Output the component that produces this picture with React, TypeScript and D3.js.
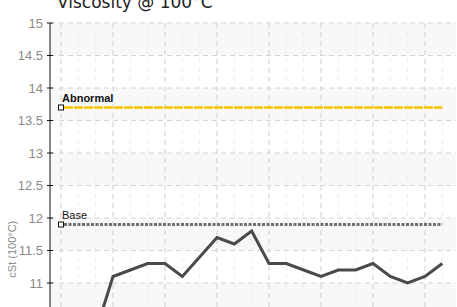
import * as d3 from "d3"

// Reading index: one per minor grid column
const readings = [9.9, 10.05, 10.25, 11.1, 11.2, 11.3, 11.3, 11.1, 11.4, 11.7, 11.6, 11.8, 11.3, 11.3, 11.2, 11.1, 11.2, 11.2, 11.3, 11.1, 11.0, 11.1, 11.3]
const yTicks = [10, 10.5, 11, 11.5, 12, 12.5, 13, 13.5, 14, 14.5, 15]
const limits = [
  { label: "Abnormal", value: 13.7, color: "#f5c200", bold: true },
  { label: "Base", value: 11.9, color: "#707070", bold: false },
]
const title = "Viscosity @ 100°C"
const yLabel = "cSt (100°C)"

export default function App() {
  const width = 457
  const height = 420
  const left = 50
  const right = 456
  const top = 23

  const x = d3.scaleLinear().domain([-0.635, 22.79]).range([left, right])
  const y = d3.scaleLinear().domain([11, 15]).range([283, top])
  const bottom = y(10)

  const idx = d3.range(readings.length)
  const major = idx.filter((i) => i % 3 === 0 && i < 22)
  const minor = idx.filter((i) => i % 3 !== 0 || i >= 22)
  const bands = yTicks.filter((t) => t < 15 && (t * 2) % 2 === 1)

  const line = d3
    .line<number>()
    .x((_, i) => x(i))
    .y((d) => y(d))

  return (
    <svg width={width} height={height} style={{ position: "absolute", left: 0, top: 0, background: "#fff" }}>
      <text x={57} y={8} fontFamily="DejaVu Sans, Verdana, sans-serif" fontSize={17} fill="#222">
        {title}
      </text>

      {/* alternating bands */}
      {bands.map((t) => (
        <rect key={t} x={left} y={y(t + 0.5)} width={right - left} height={y(t) - y(t + 0.5)} fill="#f8f8f8" />
      ))}

      {/* grid */}
      {minor.map((i) => (
        <line key={"m" + i} x1={x(i)} x2={x(i)} y1={top} y2={bottom} stroke="#ececec" strokeDasharray="4,5" />
      ))}
      {major.map((i) => (
        <line key={"M" + i} x1={x(i)} x2={x(i)} y1={top} y2={bottom} stroke="#cfcfcf" strokeDasharray="5,4" />
      ))}
      {yTicks.map((t) => (
        <line key={"h" + t} x1={left} x2={right} y1={y(t)} y2={y(t)} stroke="#d4d4d4" strokeDasharray="5,4" />
      ))}

      {/* y axis */}
      <line x1={left} x2={left} y1={top} y2={bottom} stroke="#111" />
      {yTicks.map((t) => (
        <g key={"t" + t}>
          <line x1={left - 3} x2={left + 3} y1={y(t)} y2={y(t)} stroke="#111" />
          <text
            x={left - 7}
            y={y(t)}
            dy="0.36em"
            textAnchor="end"
            fontFamily="Liberation Sans, Arial, sans-serif"
            fontSize={13}
            fill="#8a8a8a"
          >
            {t}
          </text>
        </g>
      ))}
      <text
        transform={`translate(16,${y(11.52)}) rotate(-90)`}
        textAnchor="middle"
        fontFamily="Liberation Sans, Arial, sans-serif"
        fontSize={11}
        fill="#8a8a8a"
      >
        {yLabel}
      </text>

      {/* limit lines */}
      {limits.map((l) => (
        <g key={l.label}>
          <line
            x1={x(0) + 3}
            x2={x(22)}
            y1={y(l.value)}
            y2={y(l.value)}
            stroke={l.color}
            strokeWidth={l.bold ? 2.5 : 3}
            strokeDasharray={l.bold ? "9,1" : "3,1.5"}
          />
          <rect x={x(0) - 2.5} y={y(l.value) - 2.5} width={5} height={5} fill="#fff" stroke="#111" />
          <text
            x={x(0) + 1}
            y={y(l.value) - 6}
            fontFamily="Liberation Sans, Arial, sans-serif"
            fontSize={11}
            fontWeight={l.bold ? "bold" : "normal"}
            fill="#111"
          >
            {l.label}
          </text>
        </g>
      ))}

      {/* readings */}
      <path d={line(readings) ?? ""} fill="none" stroke="#4a4a4a" strokeWidth={3} />
    </svg>
  )
}
